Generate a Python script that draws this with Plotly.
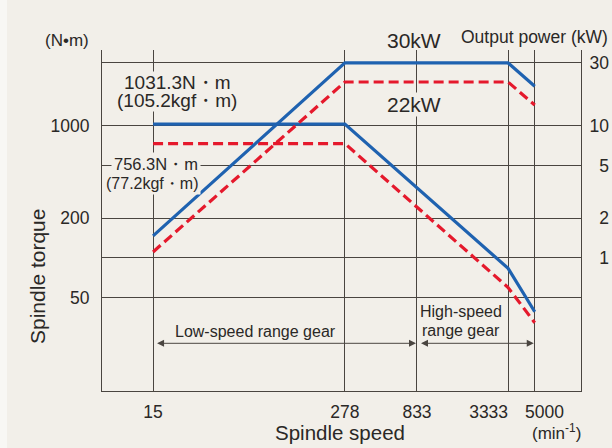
import math
import plotly.graph_objects as go

# ---------------- data ----------------
speed = [15, 278, 3333, 5000]
torque_30kw = [1031.3, 1031.3, 83.4, 39.1]
torque_22kw = [735, 735, 59.7, 32.3]
power_30kw = [1.47, 30, 30, 20.0]
power_22kw = [1.11, 21.5, 21.5, 14.4]

speed_ticks = [15, 278, 833, 3333, 5000]
# figure spaces nudge the two crowded labels apart, as in the original
speed_tick_labels = ["15", "278", "833", "3333\u2007\u2007\u2007\u2007",
                     "\u2007\u20075000"]
torque_ticks = [50, 200, 1000]
torque_tick_labels = ["50", "200", "1000"]
power_ticks = [1, 2, 5, 10, 30]
power_tick_labels = ["\u20071", "\u20072", "\u20075", "10", "30"]

low_gear = [15, 833]
high_gear = [833, 5000]

# ---------------- style ----------------
W, H = 612, 448
X0, X1, Y0, Y1 = 102, 581, 50, 391          # plot area in window pixels
ML, MR, MT, MB = X0, W - X1, Y0, H - Y1
PW, PH = X1 - X0, Y1 - Y0
BG = "#F2EFE9"
GRID = "#4a4540"
TXT = "#2a2826"
BLUE = "#1f62b0"
RED = "#e5192c"
FONT = "Liberation Sans, Arial, Helvetica, sans-serif"


def fx(p):
    return (p - X0) / PW


def fy(p):
    return (Y1 - p) / PH


fig = go.Figure()
fig.add_trace(go.Scatter(x=speed, y=torque_22kw, mode="lines",
                         line=dict(color=RED, width=3.2, dash="10px,5px"),
                         yaxis="y", showlegend=False))
fig.add_trace(go.Scatter(x=speed, y=power_22kw, mode="lines",
                         line=dict(color=RED, width=3.2, dash="10px,5px"),
                         yaxis="y2", showlegend=False))
fig.add_trace(go.Scatter(x=speed, y=torque_30kw, mode="lines",
                         line=dict(color=BLUE, width=3.2),
                         yaxis="y", showlegend=False))
fig.add_trace(go.Scatter(x=speed, y=power_30kw, mode="lines",
                         line=dict(color=BLUE, width=3.2),
                         yaxis="y2", showlegend=False))

ann = []


def text(s, xp, yp, size, bg=None, pad=0, **kw):
    d = dict(text=s, x=fx(xp), y=fy(yp), xref="paper", yref="paper",
             showarrow=False, font=dict(family=FONT, size=size, color=TXT),
             xanchor="center", yanchor="middle")
    if bg:
        d.update(bgcolor=bg, borderpad=pad)
    d.update(kw)
    ann.append(d)


text("(N\u2022m)", 67, 40, 17)
text("1031.3N\u30FBm", 177, 82, 19, bg=BG)
text("(105.2kgf\u30FBm)", 177, 100, 19, bg=BG)
text("756.3N\u30FBm", 156, 164, 16.5, bg=BG, pad=2)
text("(77.2kgf\u30FBm)", 152, 183, 16, bg=BG, pad=2)
text("30kW", 414, 40, 21)
text("Output power (kW)", 610, 37, 17.5, xanchor="right")
text("22kW", 414, 105, 21, bg=BG)
text("Spindle speed", 340, 433, 20.5)
text("(min<sup>-1</sup>)", 556, 432, 17)
text("Spindle torque", 37, 277, 21, textangle=-90)
text("Low-speed range gear", 255.5, 331, 16)
text("High-speed", 461, 311, 16)
text("range gear", 461, 330, 16)

# range arrows (double-headed); log axis -> annotation x in log10 units
for rng in (low_gear, high_gear):
    ann.append(dict(x=math.log10(rng[1]), y=fy(343.3),
                    ax=math.log10(rng[0]), ay=fy(343.3),
                    xref="x", yref="y domain", axref="x", ayref="y domain",
                    text=" ", showarrow=True, arrowside="end+start",
                    arrowhead=2, arrowsize=1.4, arrowwidth=1,
                    arrowcolor=GRID, standoff=1, startstandoff=1))

axis_common = dict(type="log", showgrid=True, gridcolor=GRID, gridwidth=1,
                   zeroline=False, showline=True, linecolor=GRID, linewidth=1.2,
                   ticks="", automargin=False, tickangle=0,
                   tickfont=dict(family=FONT, size=17.5, color=TXT))

fig.update_layout(
    width=W, height=H,
    margin=dict(l=ML, r=MR, t=MT, b=MB, autoexpand=False),
    paper_bgcolor=BG, plot_bgcolor=BG,
    xaxis=dict(axis_common, range=[0.8385, 4.0048], tickmode="array",
               tickvals=speed_ticks, ticktext=speed_tick_labels,
               ticklabelstandoff=5),
    yaxis=dict(axis_common, range=[0.992, 3.575], tickmode="array",
               tickvals=torque_ticks, ticktext=torque_tick_labels,
               ticklabelstandoff=8),
    yaxis2=dict(axis_common, range=[-1.008, 1.575], tickmode="array",
                tickvals=power_ticks, ticktext=power_tick_labels,
                overlaying="y", side="right", ticklabelstandoff=4),
    shapes=[dict(type="rect", xref="paper", yref="paper",
                 x0=fx(0), x1=fx(7), y0=fy(H), y1=fy(0),
                 fillcolor="#F8F7F4", line=dict(width=0), layer="below")],
    annotations=ann,
    showlegend=False,
)

fig.write_html(
    "out.html",
    config={"displayModeBar": False},
    post_script="document.body.style.margin='0';"
                "document.body.style.overflow='hidden';",
)
